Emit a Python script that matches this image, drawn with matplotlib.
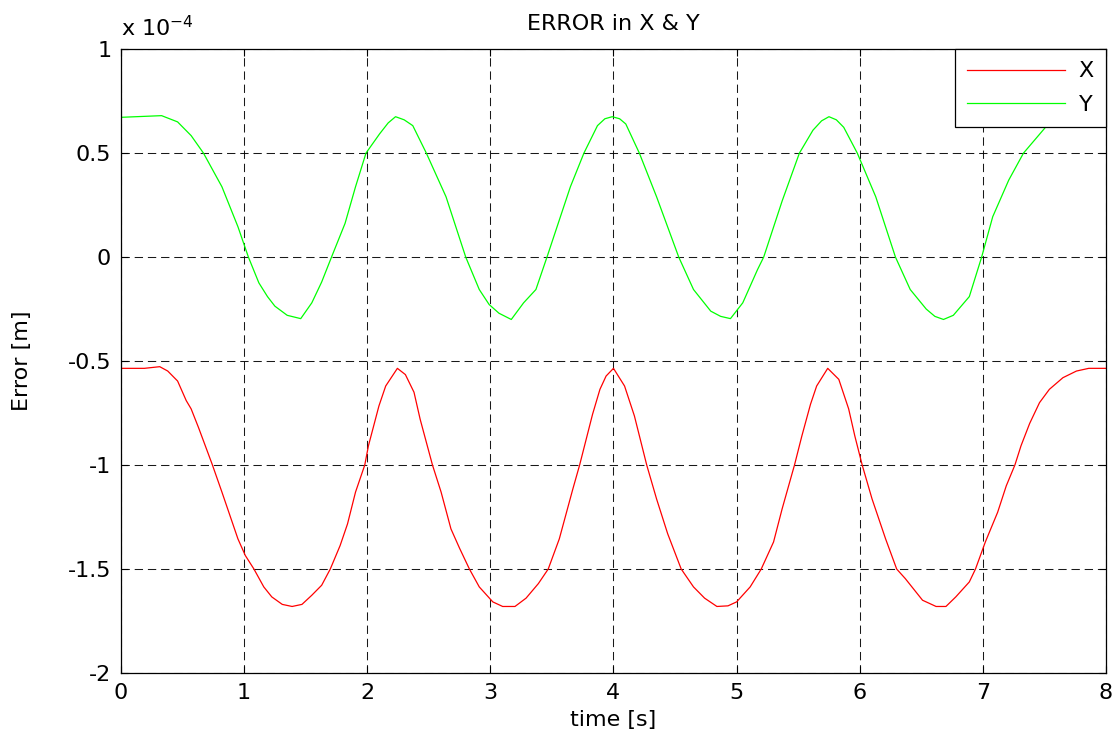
import numpy as np
import matplotlib
matplotlib.use("Agg")
import matplotlib.pyplot as plt
import matplotlib.ticker as ticker

plt.rcParams["font.family"] = ["DejaVu Sans"]
plt.rcParams["axes.unicode_minus"] = False
plt.rcParams["lines.scale_dashes"] = False

# ---------------------------------------------------------------------------
# Data (error values in units of 1e-4 m)
# ---------------------------------------------------------------------------

t_x = [0.00, 0.19, 0.315, 0.38, 0.46, 0.53, 0.57, 0.63, 0.74, 0.82, 0.95, 1.01,
       1.08, 1.16, 1.225, 1.31, 1.39, 1.47, 1.55, 1.63, 1.70, 1.78, 1.84, 1.905,
       1.98, 2.01, 2.095, 2.15, 2.245, 2.31, 2.38, 2.43, 2.53, 2.60, 2.68, 2.75,
       2.83, 2.91, 3.02, 3.10, 3.20, 3.29, 3.39, 3.47, 3.56, 3.67, 3.725, 3.83,
       3.89, 3.94, 4.00, 4.09, 4.17, 4.27, 4.35, 4.44, 4.55, 4.65, 4.74, 4.84,
       4.93, 5.00, 5.11, 5.20, 5.30, 5.37, 5.47, 5.53, 5.60, 5.65, 5.74, 5.83,
       5.91, 5.96, 6.02, 6.10, 6.21, 6.30, 6.37, 6.51, 6.62, 6.70, 6.78, 6.89,
       6.94, 7.02, 7.12, 7.19, 7.26, 7.31, 7.38, 7.46, 7.54, 7.65, 7.76, 7.86,
       8.00]
err_x = [-0.535, -0.535, -0.527, -0.548, -0.596, -0.69, -0.73, -0.82, -0.995,
         -1.13, -1.355, -1.435, -1.50, -1.586, -1.634, -1.67, -1.68, -1.67,
         -1.626, -1.578, -1.50, -1.387, -1.283, -1.13, -1.00, -0.907, -0.716,
         -0.62, -0.535, -0.565, -0.65, -0.78, -1.00, -1.13, -1.307, -1.40, -1.50,
         -1.586, -1.658, -1.68, -1.68, -1.64, -1.57, -1.50, -1.355, -1.115,
         -1.00, -0.756, -0.636, -0.572, -0.535, -0.62, -0.764, -1.00, -1.163,
         -1.33, -1.50, -1.586, -1.64, -1.68, -1.677, -1.658, -1.586, -1.50,
         -1.37, -1.21, -1.00, -0.86, -0.708, -0.62, -0.535, -0.588, -0.73,
         -0.86, -1.00, -1.163, -1.355, -1.50, -1.546, -1.65, -1.68, -1.68,
         -1.634, -1.562, -1.50, -1.37, -1.227, -1.10, -1.00, -0.907, -0.80,
         -0.70, -0.636, -0.58, -0.548, -0.535, -0.535]

t_y = [0.00, 0.33, 0.46, 0.57, 0.67, 0.82, 0.95, 1.035, 1.12, 1.19, 1.25, 1.35,
       1.46, 1.55, 1.63, 1.71, 1.82, 1.905, 1.99, 2.10, 2.17, 2.23, 2.30, 2.37,
       2.48, 2.64, 2.80, 2.91, 2.99, 3.07, 3.17, 3.27, 3.37, 3.46, 3.56, 3.65,
       3.76, 3.87, 3.93, 3.99, 4.05, 4.10, 4.21, 4.35, 4.53, 4.65, 4.79, 4.87,
       4.95, 5.05, 5.17, 5.22, 5.37, 5.51, 5.62, 5.69, 5.75, 5.81, 5.87, 5.98,
       6.13, 6.29, 6.41, 6.54, 6.61, 6.68, 6.76, 6.89, 6.99, 7.08, 7.21, 7.33,
       7.52, 7.68, 7.82, 8.00]
err_y = [0.672, 0.68, 0.65, 0.584, 0.50, 0.338, 0.146, 0.0, -0.124, -0.19,
         -0.236, -0.28, -0.296, -0.22, -0.12, 0.0, 0.162, 0.338, 0.50, 0.592,
         0.645, 0.675, 0.66, 0.632, 0.50, 0.29, 0.0, -0.156, -0.228, -0.27,
         -0.30, -0.22, -0.156, 0.0, 0.178, 0.338, 0.50, 0.632, 0.665, 0.675,
         0.665, 0.64, 0.50, 0.29, 0.0, -0.156, -0.26, -0.285, -0.296, -0.22,
         -0.06, 0.0, 0.27, 0.50, 0.61, 0.655, 0.675, 0.66, 0.624, 0.50, 0.29,
         0.0, -0.156, -0.25, -0.285, -0.30, -0.28, -0.19, 0.0, 0.194, 0.37,
         0.50, 0.632, 0.665, 0.672, 0.672]

x_ticks = [0, 1, 2, 3, 4, 5, 6, 7, 8]
y_ticks = [-2, -1.5, -1, -0.5, 0, 0.5, 1]

# ---------------------------------------------------------------------------
# Plot
# ---------------------------------------------------------------------------

fig = plt.figure(figsize=(11.2, 7.44), dpi=100)
ax = fig.add_axes([0.108, 0.0954, 0.8795, 0.8386])

ax.plot(t_x, err_x, color="#ff0000", linewidth=0.9, label="X")
ax.plot(t_y, err_y, color="#00ff00", linewidth=0.9, label="Y")

ax.set_xlim(0, 8)
ax.set_ylim(-2, 1)
ax.set_xticks(x_ticks)
ax.set_yticks(y_ticks)
ax.yaxis.set_major_formatter(ticker.FuncFormatter(lambda v, p: f"{v:g}"))

ax.grid(True, color="black", linewidth=0.75, linestyle=(0, (6, 3.5)), alpha=0.9)
ax.tick_params(direction="in", length=5, width=0.8, top=True, right=True,
               labelsize=16, pad=7)
for s in ax.spines.values():
    s.set_linewidth(0.9)

ax.set_title("ERROR in X & Y", fontsize=16, pad=14)
ax.set_xlabel("time [s]", fontsize=16, labelpad=5)
ax.set_ylabel("Error [m]", fontsize=16, labelpad=26)
ax.text(0.0, 1.015, r"x 10$^{-4}$", transform=ax.transAxes, fontsize=16,
        ha="left", va="bottom")

leg = ax.legend(loc="upper right", fontsize=16, borderaxespad=0,
                handlelength=4.4, handletextpad=0.6, labelspacing=0.62,
                borderpad=0.55, fancybox=False, edgecolor="black",
                framealpha=1)
leg.get_frame().set_linewidth(0.9)

fig.savefig("out.png", dpi=100)
